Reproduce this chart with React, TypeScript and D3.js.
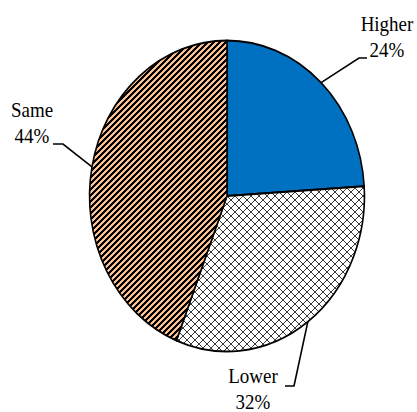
import React from "react";
import * as d3 from "d3";

const categories = ["Higher", "Lower", "Same"];
const shares = [24, 32, 44];
const shareLabels = ["24%", "32%", "44%"];

const width = 417;
const height = 412;
const cx = 227;
const cy = 196;
const R = 155.5;
const sx = 0.884; // picture is squashed horizontally

// label text anchor (centre x, baseline of first line) and leader elbow
const labelPos: Record<string, { x: number; y: number; elbow: [number, number]; end: [number, number] }> = {
  Higher: { x: 387, y: 31, elbow: [359, 58], end: [367, 58] },
  Lower: { x: 253, y: 383, elbow: [294, 386], end: [285, 386] },
  Same: { x: 32, y: 117, elbow: [63, 144], end: [53, 144] },
};

const stripeRows = d3.range(6);
const crossRows = d3.range(8);

export default function App() {
  const pie = d3.pie<number>().sort(null).startAngle(0).endAngle(2 * Math.PI);
  const arcs = pie(shares);
  const arc = d3.arc<d3.PieArcDatum<number>>().innerRadius(0).outerRadius(R);

  const fills: Record<string, string> = {
    Higher: "#0070C0",
    Lower: "url(#cross)",
    Same: "url(#stripes)",
  };

  return (
    <svg width={width} height={height} style={{ position: "absolute", left: 0, top: 0 }}>
      <defs>
        {/* patterns are in screen pixels (undo the horizontal squash) */}
        <pattern id="stripes" patternUnits="userSpaceOnUse" width="6" height="6"
          patternTransform={`scale(${1 / sx},1)`}>
          <rect width="6" height="6" fill="#FAC090" />
          {stripeRows.map((y) => {
            const x = (5 - y + 6) % 6;
            return (
              <g key={y}>
                <rect x={x} y={y} width={3} height={1} fill="#000" shapeRendering="crispEdges" />
                {x + 3 > 6 && <rect x={x - 6} y={y} width={3} height={1} fill="#000" shapeRendering="crispEdges" />}
              </g>
            );
          })}
        </pattern>
        <pattern id="cross" patternUnits="userSpaceOnUse" width="8" height="8"
          patternTransform={`scale(${1 / sx},1)`}>
          <rect width="8" height="8" fill="#fff" />
          {crossRows.map((y) => (
            <g key={y}>
              <rect x={y} y={y} width={1} height={1} fill="#3a3a3a" shapeRendering="crispEdges" />
              <rect x={7 - y} y={y} width={1} height={1} fill="#3a3a3a" shapeRendering="crispEdges" />
            </g>
          ))}
        </pattern>
      </defs>
      <g transform={`translate(${cx},${cy}) scale(${sx},1)`}>
        {arcs.map((a, i) => (
          <path
            key={categories[i]}
            d={arc(a) ?? ""}
            fill={fills[categories[i]]}
            stroke="#000"
            strokeWidth={1.8}
            strokeLinejoin="round"
          />
        ))}
      </g>
      {arcs.map((a, i) => {
        const name = categories[i];
        const p = labelPos[name];
        const mid = (a.startAngle + a.endAngle) / 2;
        const ax = cx + sx * R * Math.sin(mid);
        const ay = cy - R * Math.cos(mid);
        return (
          <g key={name}>
            <polyline
              points={`${ax},${ay} ${p.elbow[0]},${p.elbow[1]} ${p.end[0]},${p.end[1]}`}
              fill="none"
              stroke="#000"
              strokeWidth={1.6}
            />
            <g transform={`translate(${p.x},${p.y}) scale(${sx},1)`}>
              <text
                textAnchor="middle"
                style={{ fontFamily: "'Liberation Serif', 'Times New Roman', serif", fontSize: "21.5px" }}
                fill="#000"
              >
                <tspan x={0} y={0}>{name}</tspan>
                <tspan x={0} y={26}>{shareLabels[i]}</tspan>
              </text>
            </g>
          </g>
        );
      })}
    </svg>
  );
}
